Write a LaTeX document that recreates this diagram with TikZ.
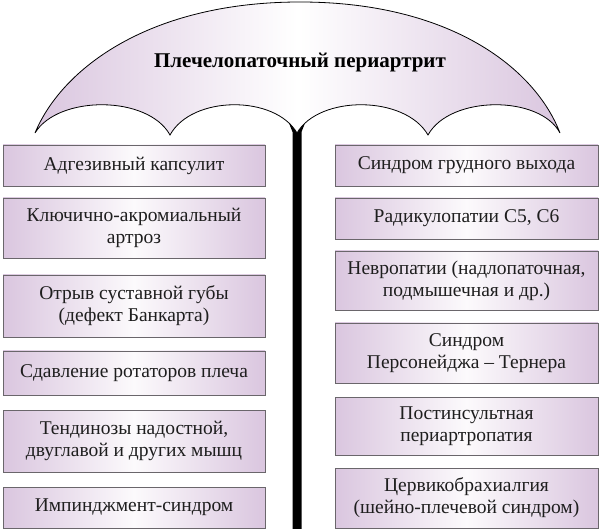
\documentclass[tikz,border=0pt]{standalone}
\usepackage{fontspec}
\setmainfont{Liberation Serif}
\definecolor{lav}{HTML}{DAC6DF}
\definecolor{boxmid}{HTML}{FCFAFC}
\definecolor{boxedge}{HTML}{6A666B}
\definecolor{txt}{HTML}{1E1E1E}
\tikzset{
  box/.style={draw=boxedge, line width=0.8pt, left color=lav, right color=lav, middle color=boxmid,
    inner sep=0pt, align=center, font=\fontsize{19.5}{22}\selectfont, text=txt},
  lbox/.style={box, minimum width=262pt},
  rbox/.style={box, minimum width=263pt},
  umbrella/.style={draw=black, line width=0.8pt, left color=lav, right color=lav, middle color=white},
  titletext/.style={font=\fontsize{21}{24}\selectfont\bfseries, text=black},
}
\begin{document}
\begin{tikzpicture}[x=1pt,y=-1pt]
\useasboundingbox (0,0) rectangle (600,529);
% pole
\fill[black] (292.5,529) -- (292.5,132) -- (287,118) -- (307,118) -- (301.5,132) -- (301.5,529) -- cycle;
% canopy
\path[umbrella] (35,133) .. controls (62,68) and (150,2) .. (300,2)
  .. controls (450,2) and (535,68) .. (560,133)
  .. controls (540,95) and (450,95) .. (428,135)
  .. controls (405,95) and (319,95) .. (297,133)
  .. controls (275,95) and (192,95) .. (170,135)
  .. controls (148,95) and (58,95) .. (35,133) -- cycle;
\node[titletext] (title) at (300,63) {Плечелопаточный периартрит};
% left column
\node[lbox, minimum height=41pt] (l1) at (134,165.5) {Адгезивный капсулит};
\node[lbox, minimum height=60pt] (l2) at (134,228) {Ключично-акромиальный\\артроз};
\node[lbox, minimum height=62pt] (l3) at (134,306) {Отрыв суставной губы\\(дефект Банкарта)};
\node[lbox, minimum height=44pt] (l4) at (134,373) {Сдавление ротаторов плеча};
\node[lbox, minimum height=62pt] (l5) at (134,441) {Тендинозы надостной,\\двуглавой и других мышц};
\node[lbox, minimum height=41pt] (l6) at (134,507.5) {Импинджмент-синдром};
% right column
\node[rbox, minimum height=41pt] (r1) at (466.5,165.5) {Синдром грудного выхода};
\node[rbox, minimum height=41pt] (r2) at (466.5,218.5) {Радикулопатии С5, С6};
\node[rbox, minimum height=59pt] (r3) at (466.5,280.5) {Невропатии (надлопаточная,\\подмышечная и др.)};
\node[rbox, minimum height=60pt] (r4) at (466.5,353) {Синдром\\Персонейджа – Тернера};
\node[rbox, minimum height=58pt] (r5) at (466.5,426) {Постинсультная\\периартропатия};
\node[rbox, minimum height=60pt] (r6) at (466.5,498) {Цервикобрахиалгия\\(шейно-плечевой синдром)};
\end{tikzpicture}
\end{document}
